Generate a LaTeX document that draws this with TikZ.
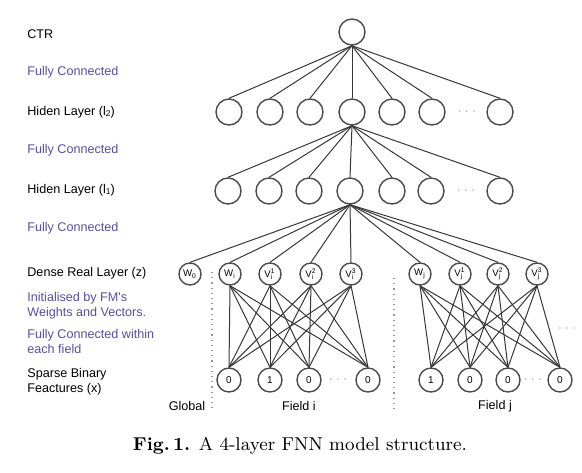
\documentclass[tikz,border=0pt]{standalone}
\usepackage{fontspec}
\newfontfamily\labfont{Liberation Sans}
\definecolor{fcblue}{RGB}{88,78,160}
\definecolor{edgec}{RGB}{55,55,55}
\definecolor{circc}{RGB}{75,75,75}
\definecolor{dotc}{RGB}{150,150,150}
\tikzset{
  lab/.style={anchor=west,inner sep=0pt,font=\labfont\fontsize{6.3}{7.6}\selectfont,align=left},
  fclab/.style={lab,text=fcblue},
  hid/.style={circle,draw=circc,line width=0.7pt,minimum size=13pt,inner sep=0pt},
  dense/.style={circle,draw=circc,line width=0.7pt,minimum size=11pt,inner sep=0pt,font=\labfont\fontsize{4.8}{5}\selectfont},
  sparse/.style={circle,draw=circc,line width=0.7pt,minimum size=12pt,inner sep=0pt,font=\labfont\fontsize{5}{5}\selectfont},
  edge/.style={draw=edgec,line width=0.5pt},
  dots/.style={text=dotc,inner sep=0pt,font=\labfont\fontsize{6}{6}\selectfont},
  sect/.style={inner sep=0pt,font=\labfont\fontsize{6.3}{7.6}\selectfont},
  divider/.style={draw=dotc,line width=0.6pt,dotted}
}
\begin{document}
\begin{tikzpicture}[x=0.5pt,y=-0.5pt]
\useasboundingbox (0,0) rectangle (582,472);
% left labels
\node[lab] (tctr) at (27,34) {CTR};
\node[fclab] (tfc1) at (27,72) {Fully Connected};
\node[lab] (th2) at (27,112) {Hiden Layer (l{\fontsize{4.2}{5}\selectfont\raisebox{-0.4pt}{2}})};
\node[fclab] (tfc2) at (27,150) {Fully Connected};
\node[lab] (th1) at (27,190) {Hiden Layer (l{\fontsize{4.2}{5}\selectfont\raisebox{-0.4pt}{1}})};
\node[fclab] (tfc3) at (27,228) {Fully Connected};
\node[lab] (tz) at (27,273) {Dense Real Layer (z)};
\node[fclab] (tinit) at (27,306) {Initialised by FM's\\Weights and Vectors.};
\node[fclab] (tfcw) at (27,341.5) {Fully Connected within\\each field};
\node[lab] (tx) at (27,381.5) {Sparse Binary\\Feactures (x)};
% CTR
\node[hid] (ctr) at (352,32) {};
% hidden l2
\foreach \i/\x in {1/229,2/270,3/310,4/352,5/392,6/432,7/500}{
  \node[hid] (a\i) at (\x,112) {};
  \draw[edge] (ctr.south) -- (a\i.north);
}
\node[dots] (adots) at (467,112) {$\cdots$};
% hidden l1
\foreach \i/\x in {1/228,2/269,3/309,4/350,5/392,6/431,7/500}{
  \node[hid] (b\i) at (\x,191) {};
  \draw[edge] (a4.south) -- (b\i.north);
}
\node[dots] (bdots) at (466,191) {$\cdots$};
% dense layer
\node[dense] (w0) at (190,274) {W\textsubscript{0}};
\node[dense] (d1) at (230,274) {W\textsubscript{i}};
\node[dense] (d2) at (270,274) {V\rlap{\textsubscript{i}}\textsuperscript{1}};
\node[dense] (d3) at (311,274) {V\rlap{\textsubscript{i}}\textsuperscript{2}};
\node[dense] (d4) at (351,274) {V\rlap{\textsubscript{i}}\textsuperscript{3}};
\node[dense] (e1) at (420,274) {W\textsubscript{j}};
\node[dense] (e2) at (460,274) {V\rlap{\textsubscript{j}}\textsuperscript{1}};
\node[dense] (e3) at (498,274) {V\rlap{\textsubscript{j}}\textsuperscript{2}};
\node[dense] (e4) at (537,274) {V\rlap{\textsubscript{j}}\textsuperscript{3}};
\foreach \n in {w0,d1,d2,d3,d4,e1,e2,e3,e4}{
  \draw[edge] (b4.south) -- (\n.north);
}
% sparse layer
\node[sparse] (s1) at (229,380) {0};
\node[sparse] (s2) at (270,380) {1};
\node[sparse] (s3) at (309,380) {0};
\node[sparse] (s4) at (368,380) {0};
\node[dots] (sdots) at (338,380) {$\cdots$};
\node[sparse] (t1) at (431,380) {1};
\node[sparse] (t2) at (470,380) {0};
\node[sparse] (t3) at (508,380) {0};
\node[sparse] (t4) at (560,380) {0};
\node[dots] (tdots) at (533,380) {$\cdots$};
\node[dots] (rdots) at (567,329) {$\cdots$};
\foreach \i in {1,2,3,4}{
  \foreach \j in {1,2,3,4}{
    \draw[edge] (d\i.south) -- (s\j.north);
    \draw[edge] (e\i.south) -- (t\j.north);
  }
}
% dividers
\coordinate (g1) at (212,272);
\coordinate (g2) at (212,412);
\coordinate (h1) at (394,278);
\coordinate (h2) at (394,413);
\draw[divider] (g1) -- (g2);
\draw[divider] (h1) -- (h2);
% section labels
\node[sect] (glob) at (187,406) {Global};
\node[sect] (fi) at (299,406) {Field i};
\node[sect] (fj) at (495,406) {Field j};
% caption
\node[inner sep=0pt,font=\fontsize{9.3}{10}\selectfont] (cap) at (300,446) {\textbf{Fig.\,1.} A 4-layer FNN model structure.};
\end{tikzpicture}
\end{document}
